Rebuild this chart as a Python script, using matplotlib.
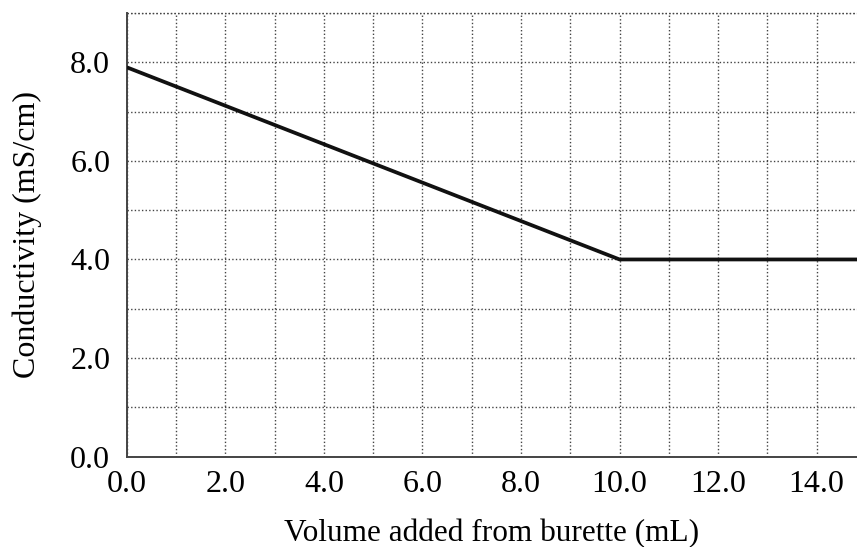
import matplotlib.pyplot as plt
from matplotlib.ticker import MultipleLocator

# Titration curve
volume = [0.0, 10.0, 15.0]
conductivity = [7.9, 4.0, 4.0]

x_ticks = [0, 2, 4, 6, 8, 10, 12, 14]
x_labels = ["0.0", "2.0", "4.0", "6.0", "8.0", "10.0", "12.0", "14.0"]
y_ticks = [0, 2, 4, 6, 8]
y_labels = ["0.0", "2.0", "4.0", "6.0", "8.0"]

plt.rcParams['font.family'] = ['Liberation Serif', 'DejaVu Serif']

fig = plt.figure(figsize=(8.57, 5.47), dpi=100)
ax = fig.add_axes([0.148, 0.1654, 0.852, 0.8106])

ax.plot(volume, conductivity, color="#111111", lw=2.7, solid_capstyle="butt", zorder=3)

ax.set_xlim(0, 14.82)
ax.set_ylim(0, 9)
ax.set_xticks(x_ticks)
ax.set_xticklabels(x_labels, fontsize=23)
ax.set_yticks(y_ticks)
ax.set_yticklabels(y_labels, fontsize=23)
ax.xaxis.set_minor_locator(MultipleLocator(1))
ax.yaxis.set_minor_locator(MultipleLocator(1))
ax.tick_params(which="both", length=0)
ax.tick_params(axis="x", pad=10)
ax.tick_params(axis="y", pad=12)

ax.grid(which="both", color="#444444", linestyle=(0, (1, 1.6)), lw=1.0)
ax.axhline(9, color="#444444", linestyle=(0, (1, 1.6)), lw=1.0, clip_on=False)

for s in ["top", "right"]:
    ax.spines[s].set_visible(False)
for s in ["left", "bottom"]:
    ax.spines[s].set_color("#444444")
    ax.spines[s].set_linewidth(1.4)

ax.set_xlabel("Volume added from burette (mL)", fontsize=22.5, labelpad=14)
ax.set_ylabel("Conductivity (mS/cm)", fontsize=23, labelpad=20)

fig.savefig("out.png", dpi=100)
